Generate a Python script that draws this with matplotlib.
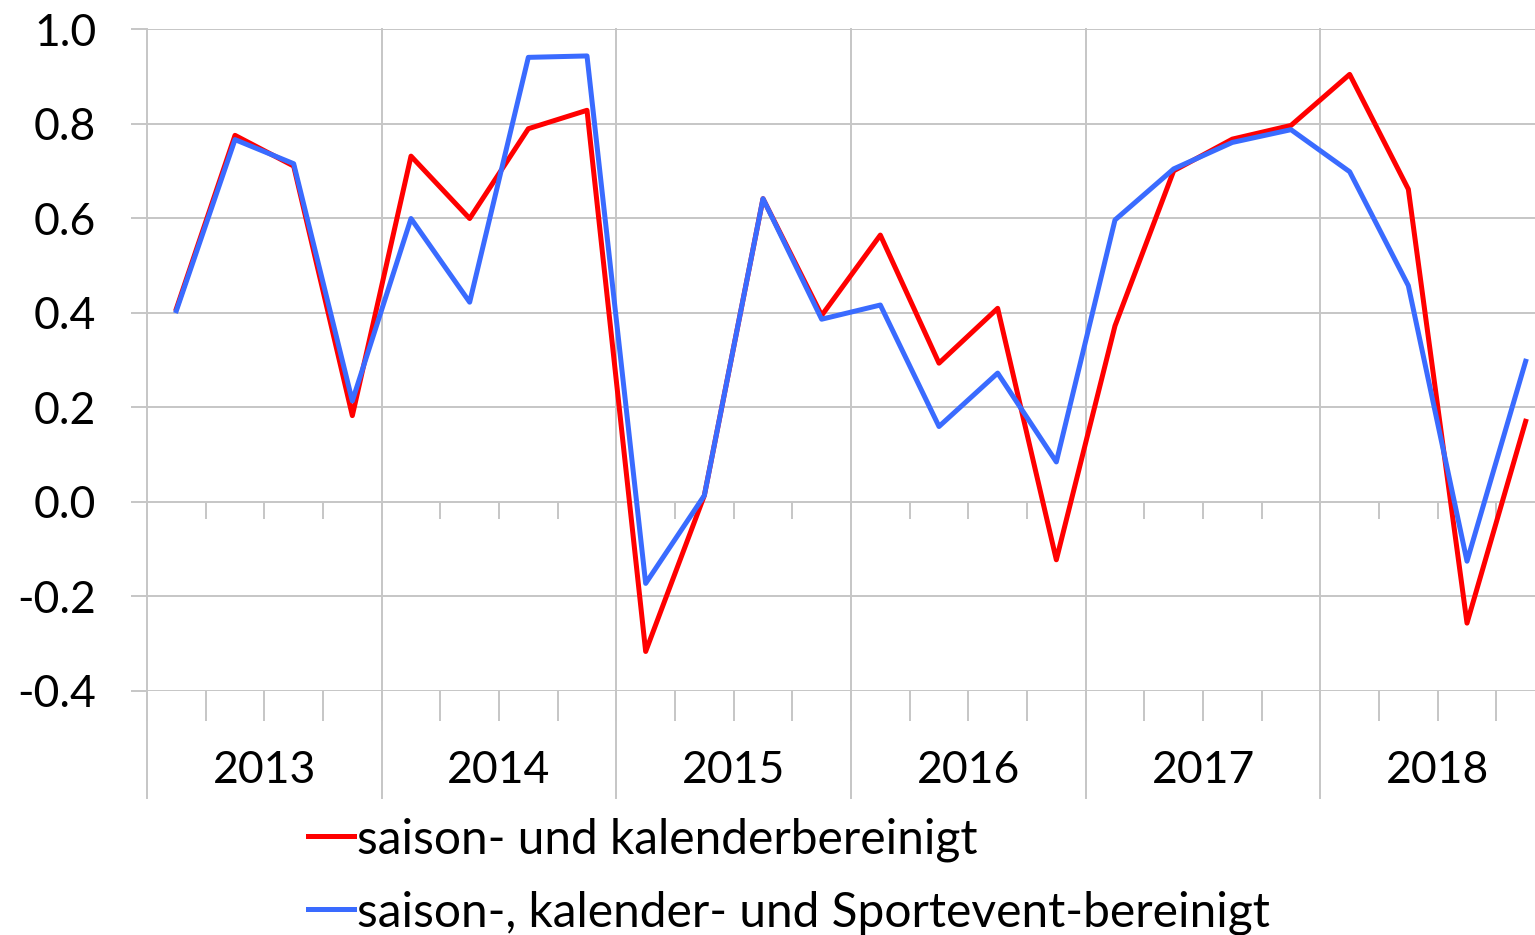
import matplotlib
matplotlib.use("Agg")
import matplotlib.pyplot as plt
from matplotlib.lines import Line2D

# quarterly values 2013 Q1 .. 2018 Q4
years = ["2013", "2014", "2015", "2016", "2017", "2018"]
sk_adj = [0.408, 0.775, 0.710, 0.182, 0.731, 0.599, 0.789, 0.828,
          -0.317, 0.013, 0.641, 0.394, 0.564, 0.293, 0.409, -0.123,
          0.372, 0.700, 0.767, 0.796, 0.904, 0.661, -0.257, 0.170]
sks_adj = [0.404, 0.766, 0.715, 0.213, 0.599, 0.422, 0.940, 0.943,
           -0.173, 0.013, 0.641, 0.386, 0.416, 0.159, 0.272, 0.084,
           0.596, 0.704, 0.760, 0.787, 0.698, 0.457, -0.126, 0.297]
labels = ["saison- und kalenderbereinigt",
          "saison-, kalender- und Sportevent-bereinigt"]
yticks = [-0.4, -0.2, 0.0, 0.2, 0.4, 0.6, 0.8, 1.0]

plt.rcParams['font.family'] = ['Lato', 'DejaVu Sans']
grid_col = '#c6c6c6'
red = '#ff0000'
blue = '#3a6bff'
fs = 32
lw = 3.6

W, H = 1535, 935
fig = plt.figure(figsize=(W / 100, H / 100), dpi=100)
# axes spans 6 years, right end falls slightly outside the picture
ax = fig.add_axes([147 / W, (H - 690.7) / H, 1408 / W, 661.7 / H])

x = [i + 0.5 for i in range(len(sk_adj))]
ax.plot(x, sk_adj, color=red, lw=lw, solid_joinstyle='round', zorder=3)
ax.plot(x, sks_adj, color=blue, lw=lw, solid_joinstyle='round', zorder=4)

ax.set_xlim(0, 4 * len(years))
ax.set_ylim(-0.4, 1.0)
ax.set_yticks(yticks)
ax.set_yticklabels([f"{v:.1f}" for v in yticks], fontsize=fs)
ax.yaxis.grid(True, color=grid_col, lw=1.4)
ax.tick_params(axis='y', length=11.5, width=1.4, color=grid_col, pad=25)

for s in ax.spines.values():
    s.set_visible(False)

# quarter ticks under the bottom line
ax.set_xticks(range(0, 4 * len(years) + 1), minor=True)
ax.set_xticks([])
ax.tick_params(axis='x', which='minor', length=21.5, width=1.4, color=grid_col)

# quarter ticks on the zero line
sec = ax.secondary_xaxis(0.4 / 1.4)
sec.set_xticks([])
sec.set_xticks(range(0, 4 * len(years) + 1), minor=True)
sec.tick_params(axis='x', which='minor', length=12.5, width=1.4, color=grid_col)
sec.spines['bottom'].set_visible(False)

# year separators, running down into the label band
tr = ax.get_xaxis_transform()
for b in range(0, 4 * len(years) + 1, 4):
    ax.plot([b, b], [-0.162, 1.0], transform=tr, color=grid_col, lw=1.4,
            clip_on=False, zorder=1)

for i, yr in enumerate(years):
    ax.text(4 * i + 2, -0.1395, yr, transform=tr, ha='center', va='baseline',
            fontsize=fs)

handles = [Line2D([], [], color=red, lw=lw), Line2D([], [], color=blue, lw=lw)]
fig.legend(handles, labels, loc='upper left', bbox_to_anchor=(308 / W, 1 - 817 / H),
           frameon=False, fontsize=34.5, handlelength=0.95, handletextpad=0.07,
           labelspacing=0.6, borderpad=0, borderaxespad=0)

fig.savefig("out.png", dpi=100)
